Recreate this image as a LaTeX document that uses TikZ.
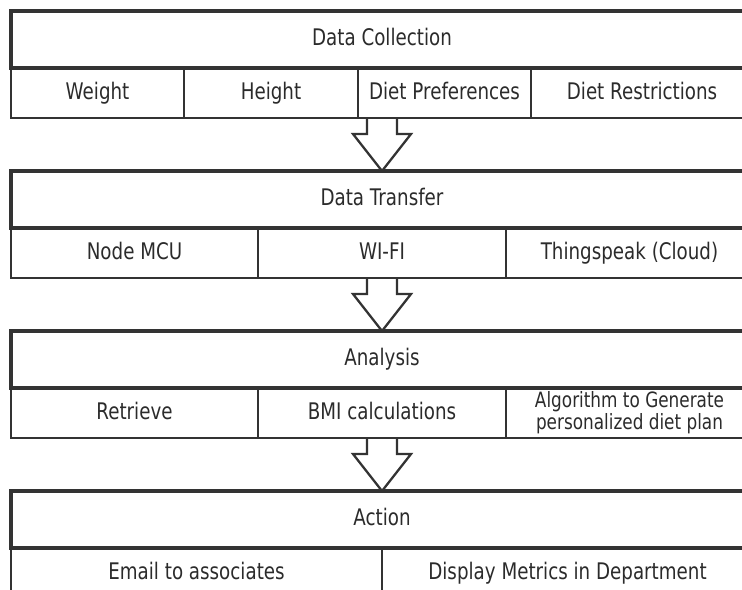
\documentclass[tikz,border=0pt]{standalone}
\usepackage{fontspec}
\setmainfont{DejaVu Sans}[FakeStretch=0.8]
\usetikzlibrary{calc}
\definecolor{linegray}{HTML}{333333}
\definecolor{textgray}{HTML}{2B2B2B}
\newcommand{\px}{0.02cm}
\tikzset{stage/.style={draw=linegray, line width=1.8pt, outer sep=0pt, inner sep=0pt, anchor=north west, minimum width=742*\px, minimum height=57*\px, text height=0.75em, text depth=0.03em, text=textgray, font=\fontsize{13}{13}\selectfont}}
\tikzset{item/.style={draw=linegray, line width=1.6pt, outer sep=0pt, inner sep=0pt, anchor=north west, minimum height=50*\px, text height=0.75em, text depth=0.03em, text=textgray, font=\fontsize{13}{13}\selectfont}}
\tikzset{flow/.style={draw=linegray, line width=1.3pt, line join=miter}}
\newcommand{\flowarrow}[2]{\draw[flow] ($(#1)+(-15,0)$) -- ++(0,16) -- ++(-14,0) -- (#2) -- ($(#1)+(29,16)$) -- ++(-14,0) -- ++(0,-16);}

\begin{document}
\begin{tikzpicture}[x=\px, y=-\px]
  \useasboundingbox (0,0) rectangle (742,590);
  \clip (0,0) rectangle (742,590);
  % data collection
  \node[stage] (dc) at (11,11) {Data Collection};
  \node[item, minimum width=173*\px] (wt) at (dc.south west) {Weight};
  \node[item, minimum width=174*\px] (ht) at (wt.north east) {Height};
  \node[item, minimum width=173*\px] (dp) at (ht.north east) {Diet Preferences};
  \node[item, minimum width=222*\px] (dr) at (dp.north east) {Diet Restrictions};
  % data transfer
  \node[stage] (dt) at (11,171) {Data Transfer};
  \node[item, minimum width=247*\px] (mcu) at (dt.south west) {Node MCU};
  \node[item, minimum width=248*\px] (wifi) at (mcu.north east) {WI-FI};
  \node[item, minimum width=247*\px] (cloud) at (wifi.north east) {Thingspeak (Cloud)};
  % analysis
  \node[stage] (an) at (11,331) {Analysis};
  \node[item, minimum width=247*\px] (ret) at (an.south west) {Retrieve};
  \node[item, minimum width=248*\px] (bmi) at (ret.north east) {BMI calculations};
  \node[item, minimum width=247*\px, text height=, text depth=, align=center, font=\fontsize{12}{12.5}\selectfont] (algo) at (bmi.north east) {Algorithm to Generate\\personalized diet plan};
  % action
  \node[stage] (act) at (11,491) {Action};
  \node[item, minimum width=371*\px] (mail) at (act.south west) {Email to associates};
  \node[item, minimum width=371*\px] (disp) at (mail.north east) {Display Metrics in Department};
  % arrows
  \flowarrow{dc |- wt.south}{dt.north}
  \flowarrow{dt |- mcu.south}{an.north}
  \flowarrow{an |- ret.south}{act.north}
\end{tikzpicture}
\end{document}
